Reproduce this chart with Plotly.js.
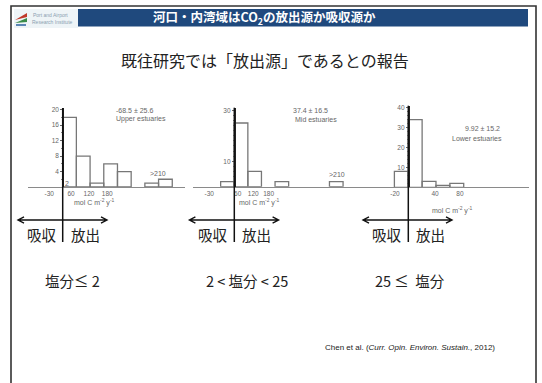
<!DOCTYPE html>
<html><head><meta charset="utf-8">
<script src="https://cdn.plot.ly/plotly-3.0.1.min.js"></script>
<style>html,body{margin:0;padding:0;background:#fff;}#chart{width:542px;height:383px;}</style>
</head><body><div id="chart"></div>
<script>
// ---- data (bin index relative to zero, counts) ----
const upperBins   = [0, 1, 2, 3, 4, 6, 7];
const upperCounts = [18, 8, 1, 6, 4, 1, 2];
const midBins     = [-1, 0, 1, 3, 7];
const midCounts   = [2, 25, 6, 2, 2];
const lowerBins   = [-1, 0, 1, 2, 3];
const lowerCounts = [8, 34, 3, 1, 2];

const upperTickText = ['-30', '60', '120', '180'];
const upperTickPos  = [-0.98, 0.61, 1.92, 3.25];
const midTickText   = ['-30', '60', '120', '180'];
const midTickPos    = [-1.84, 0.25, 1.40, 2.53];
const lowerTickText = ['-20', '40', '80'];
const lowerTickPos  = [-0.96, 1.93, 3.73];

const upperYTicks = [4, 8, 12, 16, 20];
const midYTicks   = [10, 30];
const lowerYTicks = [10, 20, 30, 40];

const panelStats  = ['-68.5 \u00b1 25.6', '37.4 \u00b1 16.5', '9.92 \u00b1 15.2'];
const panelNames  = ['Upper estuaries', 'Mid estuaries', 'Lower estuaries'];
const salinity    = ['塩分≤ 2', '2 < 塩分 < 25', '25 ≤  塩分'];

// ---- helpers ----
const W = 542, H = 383;
const X = v => v / W;
const Y = v => 1 - v / H;
const JP = '"Noto Sans CJK JP", "Noto Sans", sans-serif';
const LAT = '"Liberation Sans", Arial, sans-serif';
const GRAY = '#666666';

function barTrace(bins, counts, xa, ya) {
  return {
    type: 'bar', x: bins.map(b => b + 0.5), y: counts, width: 1,
    xaxis: xa, yaxis: ya,
    marker: {color: 'rgba(255,255,255,0)', line: {color: '#777777', width: 1.3}},
    hoverinfo: 'skip'
  };
}

const data = [
  barTrace(upperBins, upperCounts, 'x', 'y'),
  barTrace(midBins, midCounts, 'x2', 'y2'),
  barTrace(lowerBins, lowerCounts, 'x3', 'y3')
];

function xAxis(d0, d1, r0, r1, anchor, pos, txt) {
  return {domain: [X(d0), X(d1)], range: [r0, r1], anchor: anchor,
    showline: true, linecolor: '#8a8a8a', linewidth: 1, ticks: '',
    tickmode: 'array', tickvals: pos, ticktext: txt,
    tickfont: {family: LAT, size: 6.5, color: GRAY},
    showgrid: false, zeroline: false, fixedrange: true};
}
function yAxis(base, top, rmax, axisPx, ticks) {
  return {domain: [Y(base), Y(top)], range: [0, rmax], anchor: 'free', position: X(axisPx),
    showline: true, linecolor: '#222', linewidth: 1.4,
    ticks: 'outside', ticklen: 2.5, tickcolor: '#666', tickwidth: 1,
    tickmode: 'array', tickvals: ticks,
    tickfont: {family: LAT, size: 6.5, color: GRAY},
    minor: {ticks: 'outside', ticklen: 1.5, dtick: 2, tickcolor: '#888'},
    showgrid: false, zeroline: false, fixedrange: true};
}

const shapes = [
  // slide frame
  {type: 'rect', xref: 'paper', yref: 'paper', x0: X(11), x1: X(536), y0: Y(395), y1: Y(6),
   line: {color: '#333', width: 1.6}, fillcolor: 'rgba(0,0,0,0)'},
  // header bar
  {type: 'rect', xref: 'paper', yref: 'paper', x0: X(78), x1: X(528), y0: Y(26.5), y1: Y(9),
   line: {width: 0}, fillcolor: '#1F497D'},
  // logo background
  {type: 'rect', xref: 'paper', yref: 'paper', x0: X(14), x1: X(78), y0: Y(28), y1: Y(9),
   line: {width: 0}, fillcolor: '#EEF4F7'},
  {type: 'path', xref: 'paper', yref: 'paper',
   path: `M ${X(15)} ${Y(20)} L ${X(27)} ${Y(13)} L ${X(27)} ${Y(17)} Z`, fillcolor: '#C0392B', line: {width: 0}},
  {type: 'path', xref: 'paper', yref: 'paper',
   path: `M ${X(15)} ${Y(23)} L ${X(27)} ${Y(18)} L ${X(27)} ${Y(22)} Z`, fillcolor: '#3A8D4A', line: {width: 0}},
  {type: 'rect', xref: 'paper', yref: 'paper', x0: X(16), x1: X(26), y0: Y(26), y1: Y(24),
   line: {width: 0}, fillcolor: '#5B86B5'},
  // dividers (吸収 | 放出)
  {type: 'line', xref: 'paper', yref: 'paper', x0: X(62.7), x1: X(62.7), y0: Y(108), y1: Y(242), line: {color: '#111', width: 1.5}},
  {type: 'line', xref: 'paper', yref: 'paper', x0: X(234.3), x1: X(234.3), y0: Y(107.7), y1: Y(242), line: {color: '#111', width: 1.5}},
  {type: 'line', xref: 'paper', yref: 'paper', x0: X(408.3), x1: X(408.3), y0: Y(105.7), y1: Y(242), line: {color: '#111', width: 1.5}}
];

// double-headed arrows drawn as shapes
function arrow(x0, x1, y) {
  const hx = 6, hy = 3.2;
  shapes.push({type: 'path', xref: 'paper', yref: 'paper',
    path: `M ${X(x0)} ${Y(y)} L ${X(x1)} ${Y(y)} ` +
          `M ${X(x0 + hx)} ${Y(y - hy)} L ${X(x0)} ${Y(y)} L ${X(x0 + hx)} ${Y(y + hy)} ` +
          `M ${X(x1 - hx)} ${Y(y - hy)} L ${X(x1)} ${Y(y)} L ${X(x1 - hx)} ${Y(y + hy)}`,
    line: {color: '#111', width: 1.4}});
}
arrow(18, 107, 220); arrow(189.4, 278.6, 220); arrow(363, 452, 220);

const annotations = [];
function txt(x, y, text, size, opts) {
  annotations.push(Object.assign({xref: 'paper', yref: 'paper', x: X(x), y: Y(y), text: text,
    showarrow: false, xanchor: 'center', yanchor: 'middle',
    font: {family: JP, size: size, color: '#222'}}, opts || {}));
}

// header texts
txt(264, 17.5, '<b>河口・内湾域はCO<sub>2</sub>の放出源か吸収源か</b>', 12.5, {font: {family: JP, size: 12.5, color: '#ffffff'}});
txt(50, 14.5, 'Port and Airport', 5, {font: {family: LAT, size: 5, color: '#8aa0b0'}});
txt(52, 21.5, 'Research Institute', 5, {font: {family: LAT, size: 5, color: '#8aa0b0'}});
txt(265, 60, '既往研究では「放出源」であるとの報告', 16);

// panel labels
const SM = 7;
const small = () => ({family: LAT, size: SM, color: GRAY});
txt(114, 110, panelStats[0], SM, {xanchor: 'left', font: small()});
txt(114, 119.5, panelNames[0], SM, {xanchor: 'left', font: small()});
txt(291, 110, panelStats[1], SM, {xanchor: 'left', font: small()});
txt(293, 119.5, panelNames[1], SM, {xanchor: 'left', font: small()});
txt(502, 128.5, panelStats[2], SM, {xanchor: 'right', font: small()});
txt(504, 138, panelNames[2], SM, {xanchor: 'right', font: small()});
txt(158.3, 173.5, '>210', SM, {font: small()});
txt(336.7, 175, '>210', SM, {font: small()});
txt(66.5, 183.5, '2', SM, {font: small()});
const unit = 'mol C m<sup>-2</sup> y<sup>-1</sup>';
txt(94, 202.5, unit, SM, {font: small()});
txt(259, 202, unit, SM, {font: small()});
txt(452, 210, unit, SM, {font: small()});

// flux direction labels
[[62.7], [234.3], [408.3]].forEach(([d]) => {
  txt(d - 4, 234.5, '吸収', 14.5, {xanchor: 'right'});
  txt(d + 6, 234.5, '放出', 14.5, {xanchor: 'left'});
});

// salinity labels
txt(72.6, 280, salinity[0], 14.5);
txt(247, 280, salinity[1], 14.5);
txt(409.6, 280, salinity[2], 14.5);

// citation
txt(409.5, 347, 'Chen et al. (<i>Curr. Opin. Environ. Sustain.</i>, 2012)', 8, {font: {family: LAT, size: 8, color: '#222'}});

const layout = {
  width: W, height: H, margin: {l: 0, r: 0, t: 0, b: 0},
  paper_bgcolor: '#ffffff', plot_bgcolor: 'rgba(0,0,0,0)', showlegend: false,
  xaxis:  xAxis(28.3, 185, -2.51, 8.93, 'y', upperTickPos, upperTickText),
  yaxis:  yAxis(187, 108, 20.44, 62.7, upperYTicks),
  xaxis2: xAxis(193.3, 358.3, -3.01, 9.12, 'y2', midTickPos, midTickText),
  yaxis2: yAxis(186.7, 107.7, 31.0, 234.3, midYTicks),
  xaxis3: xAxis(351, 529, -4.13, 8.71, 'y3', lowerTickPos, lowerTickText),
  yaxis3: yAxis(187.3, 105.7, 41.0, 408.3, lowerYTicks),
  shapes: shapes, annotations: annotations
};

Plotly.newPlot('chart', data, layout, {displayModeBar: false, staticPlot: true});
</script>
</body></html>
